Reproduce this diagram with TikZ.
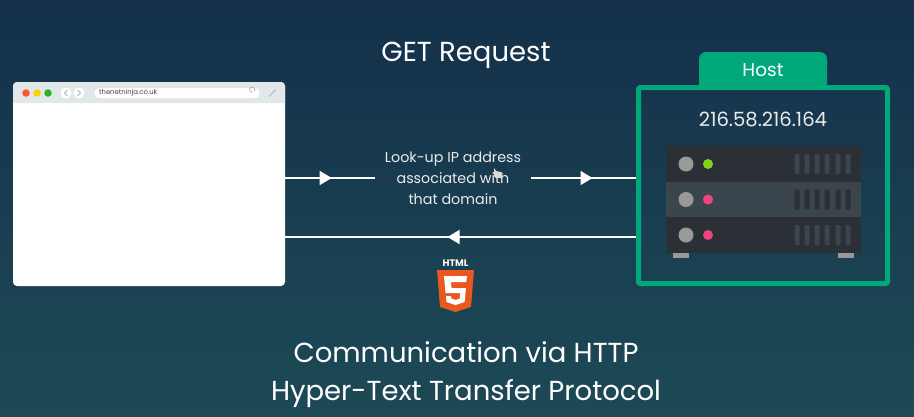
\documentclass[tikz,border=0pt]{standalone}
\usepackage{fontspec}
\setmainfont{Poppins}
\usetikzlibrary{arrows.meta,decorations.markings}
\definecolor{bgtop}{HTML}{14304A}
\definecolor{bgbot}{HTML}{1D4A56}
\definecolor{hostgreen}{HTML}{00A87A}
\definecolor{barcol}{HTML}{E2E8EA}
\definecolor{rackdark}{HTML}{2A3036}
\definecolor{racklight}{HTML}{3A454E}
\definecolor{ventdark}{HTML}{3C454C}
\definecolor{ledpink}{HTML}{F0447F}
\definecolor{ledgreen}{HTML}{7ED321}
\definecolor{h5orange}{HTML}{E8581F}
\tikzstyle{caption} = [text=white, font=\fontsize{27.5}{30}\selectfont, align=center, inner sep=0pt]
\tikzstyle{smalltext} = [text=white!92!black, font=\fontsize{14.3}{21}\selectfont, align=center, inner sep=0pt]
\tikzstyle{rack} = [rectangle, minimum width=195pt, minimum height=35.5pt, inner sep=0pt, outer sep=0pt]
\tikzstyle{vent} = [rectangle, rounded corners=1pt, minimum width=5pt, minimum height=20pt, inner sep=0pt]
\tikzstyle{led} = [circle, inner sep=0pt, minimum size=10pt]
\tikzstyle{knob} = [circle, fill=black!40!white, inner sep=0pt, minimum size=15pt]
\tikzstyle{foot} = [rectangle, fill=black!40!white, minimum width=16pt, minimum height=5pt, inner sep=0pt]
\tikzstyle{dot} = [circle, inner sep=0pt, minimum size=7.5pt]
\tikzstyle{navbtn} = [circle, fill=white, minimum size=11pt, inner sep=0pt]
\tikzstyle{line} = [draw=white, line width=1.6pt]
\tikzset{midarrow/.style={decoration={markings,
   mark=at position #1 with {\arrow{Triangle[width=14pt,length=12pt]}}}, postaction={decorate}}}
\begin{document}
\begin{tikzpicture}[x=1pt,y=-1pt]
      \useasboundingbox (0,0) rectangle (914,416);
      \shade [top color=bgtop, bottom color=bgbot] (0,0) rectangle (914,416);

      \node [caption] (title) at (466,55) {GET Request};
      \node [caption] (foota) at (466,352) {Communication via HTTP};
      \node [caption] (footb) at (466,394) {Hyper-Text Transfer Protocol};

      % browser window
      \node [rectangle, fill=white, rounded corners=4pt, minimum width=272pt, minimum height=204pt,
         inner sep=0pt, outer sep=0pt] (browser) at (149,184) {};
      \fill [barcol] (13,103) [rounded corners=4pt] -- (13,82) -- (285,82) [sharp corners] -- (285,103) -- cycle;
      \node [dot, fill=red!70!orange!80!white] (dotr) at (26,93) {};
      \node [dot, fill=yellow!70!orange] (doty) at (37,93) {};
      \node [dot, fill=green!65!black!85!white] (dotg) at (48,93) {};
      \node [navbtn] (back) at (66,93) {};
      \node [navbtn] (fwd) at (79,93) {};
      \draw [black!45, line width=.6pt] (67.5,90) -- (64.5,93) -- (67.5,96);
      \draw [black!45, line width=.6pt] (77.5,90) -- (80.5,93) -- (77.5,96);
      \node [rectangle, fill=white, rounded corners=4.5pt, minimum width=165pt, minimum height=10pt,
         inner sep=0pt] (urlbar) at (177,93) {};
      \node [text=black!75, font=\fontsize{6.8}{8}\selectfont, anchor=west, inner sep=0pt]
         (url) at (99,93) {thenetninja.co.uk};
      \draw [black!35, line width=.7pt] (254.5,91) arc (-30:270:2.6pt);
      \draw [black!30, line width=.8pt] (269,96.5) -- (276,89.5);

      % host box
      \fill [hostgreen] (699,87) [rounded corners=7pt] -- (699,52) -- (827,52) [sharp corners] -- (827,87) -- cycle;
      \node [text=white, font=\fontsize{18.5}{20}\selectfont, inner sep=0pt] (hostlabel) at (763,70) {Host};
      \node [smalltext, font=\fontsize{19.6}{22}\selectfont] (ipaddr) at (763,119) {216.58.216.164};

      % server rack
      \node [rack, fill=rackdark] (racka) at (763.5,164) {};
      \node [rack, fill=racklight] (rackb) at (763.5,199.5) {};
      \node [rack, fill=rackdark] (rackc) at (763.5,235) {};
      \foreach \r/\c/\v in {racka/ledgreen/ventdark, rackb/ledpink/rackdark, rackc/ledpink/ventdark} {
         \node [knob] (knob-\r) at ([xshift=-77.5pt]\r.center) {};
         \node [led, fill=\c] (led-\r) at ([xshift=-55.5pt]\r.center) {};
         \foreach \x in {33.5,43.5,53.5,63.5,74.5,84.5} {
            \node [vent, fill=\v] at ([xshift=\x pt]\r.center) {};
         }
      }
      \node [foot] (footl) at (681,255) {};
      \node [foot] (footr) at (846,255) {};

      % connectors
      \node [rectangle, draw=hostgreen, line width=5pt, rounded corners=2pt, minimum width=249pt,
         minimum height=196pt, inner sep=0pt] (hostbox) at (763,185.5) {};
      \node [smalltext, minimum width=156pt] (lookup) at (453,178) {Look-up IP address\\associated with\\that domain};
      \coordinate (resp) at (453,237);
      \path [line, midarrow=0.52] (lookup.west -| browser.east) -- (lookup.west);
      \path [line, midarrow=0.585] (lookup.east) -- (lookup.east -| hostbox.west);
      \path [line, midarrow=0.537] (resp -| hostbox.west) -- (resp -| browser.east);

      % cursor
      \fill [white!85!black] (494,168) -- (494,176) -- (496,178) -- (501,178) -- (501,172) -- (496,171) -- cycle;

      % html5 badge
      \node [text=white, font=\bfseries\fontsize{9.5}{10}\selectfont, inner sep=0pt] (htmltext) at (455.5,263) {HTML};
      \fill [h5orange] (437,270) -- (474,270) -- (471,307) -- (455.5,312) -- (440,307) -- cycle;
      \fill [white] (444,276) -- (467,276) -- (466.3,282) -- (451,282) -- (451.6,288) -- (466,288)
         -- (464.6,302) -- (455.5,305) -- (446.5,302) -- (446,296) -- (451,296) -- (451.3,298.5)
         -- (455.5,300) -- (459.8,298.5) -- (460.3,293) -- (445.5,293) -- cycle;
\end{tikzpicture}
\end{document}
